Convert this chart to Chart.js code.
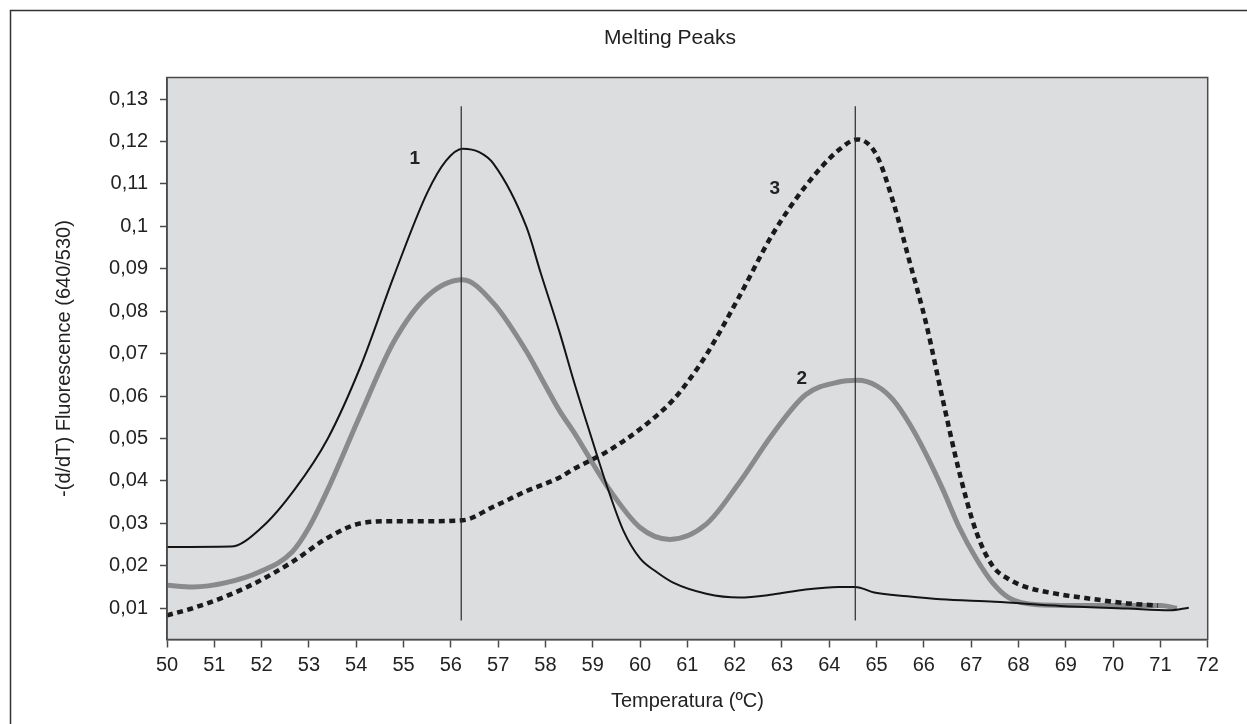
<!DOCTYPE html>
<html>
<head>
<meta charset="utf-8">
<title>Melting Peaks</title>
<script src="https://cdn.jsdelivr.net/npm/chart.js@4/dist/chart.umd.min.js"></script>
<style>
  html, body { margin: 0; padding: 0; background: #fff; }
  canvas { display: block; }
</style>
</head>
<body>
<canvas id="chart" width="1247" height="724"></canvas>
<script>
// curve 1 - thin black
const temp1 = [50, 51.35, 52, 52.7, 53.4, 54.1, 54.8, 55.5, 55.9, 56.25, 56.6, 56.9, 57.6, 57.9, 58.3, 58.6, 58.95, 59.3, 59.65, 60, 60.35, 60.7, 61.4, 62.1, 62.8, 63.5, 64.2, 64.55, 64.95, 65.65, 66.35, 67.5, 68.9, 70.3, 71.2, 71.6]
const peak1 = [0.0244, 0.0245, 0.029, 0.038, 0.05, 0.0672, 0.0884, 0.1079, 0.1155, 0.1183, 0.1175, 0.1148, 0.0998, 0.089, 0.075, 0.0635, 0.051, 0.0388, 0.0282, 0.0217, 0.0185, 0.016, 0.0134, 0.0125, 0.0132, 0.0144, 0.015, 0.015, 0.0137, 0.0128, 0.0121, 0.0115, 0.0105, 0.0099, 0.0095, 0.0101]

// curve 2 - thick grey
const temp2 = [50, 50.55, 51.25, 51.95, 52.65, 53, 53.4, 54.1, 54.8, 55.5, 56.25, 56.9, 57.6, 57.9, 58.3, 58.6, 59.3, 60, 60.63, 61.4, 62.1, 62.8, 63.5, 64.2, 64.6, 65, 65.35, 65.7, 66.05, 66.4, 66.75, 67.1, 67.45, 67.8, 68.4, 69.6, 71, 71.35]
const peak2 = [0.0154, 0.015, 0.016, 0.0185, 0.0233, 0.029, 0.038, 0.0559, 0.0729, 0.0835, 0.0874, 0.0819, 0.0705, 0.0645, 0.0565, 0.0515, 0.0388, 0.029, 0.0262, 0.0298, 0.0396, 0.051, 0.0603, 0.0633, 0.0637, 0.0624, 0.0591, 0.0534, 0.0462, 0.038, 0.029, 0.0218, 0.016, 0.0124, 0.0108, 0.0106, 0.0106, 0.01]

// curve 3 - dotted
const temp3 = [50, 50.55, 51.25, 51.95, 52.65, 53.4, 54.1, 54.8, 55.5, 56.25, 56.9, 57.6, 58.3, 58.6, 59.3, 60, 60.7, 61.05, 61.4, 62.1, 62.8, 63.5, 64.2, 64.6, 65, 65.35, 65.7, 66.05, 66.4, 66.75, 67.1, 67.45, 67.8, 68.15, 68.9, 69.6, 70.3, 70.95]
const peak3 = [0.0083, 0.01, 0.0128, 0.0164, 0.0209, 0.0266, 0.03, 0.0305, 0.0305, 0.0307, 0.0339, 0.0376, 0.0408, 0.0428, 0.0469, 0.0522, 0.0591, 0.064, 0.0697, 0.0835, 0.0981, 0.1095, 0.118, 0.1205, 0.1168, 0.1058, 0.0916, 0.077, 0.0591, 0.042, 0.0282, 0.02, 0.0168, 0.015, 0.0132, 0.0121, 0.0111, 0.0106]

// melting temperature markers
const markerTemps = [56.22, 64.55]
const markerRange = [0.0071, 0.1283]

// curve numbers
const curveNames = ["1", "2", "3"]
const nameTemps = [55.24, 63.42, 62.85]
const nameValues = [0.116, 0.064, 0.1088]

const xRange = [50, 72]
const yRange = [0.0026, 0.1351]
const yTickValues = [0.01, 0.02, 0.03, 0.04, 0.05, 0.06, 0.07, 0.08, 0.09, 0.1, 0.11, 0.12, 0.13]

const toPoints = (xs, ys) => xs.map((x, i) => ({ x, y: ys[i] }))

const FONT = "'Liberation Sans', Arial, Helvetica, sans-serif"
const INK = "#222"

const plotDecor = {
  id: "plotDecor",
  beforeDraw(chart) {
    const { ctx, chartArea: a } = chart
    ctx.save()
    ctx.fillStyle = "#dcdddf"
    ctx.fillRect(a.left, a.top, a.right - a.left, a.bottom - a.top)
    ctx.restore()
  },
  afterDraw(chart) {
    const { ctx, chartArea: a, scales } = chart
    ctx.save()
    // plot frame
    ctx.strokeStyle = "#4a4a4a"
    ctx.lineWidth = 1.5
    ctx.strokeRect(a.left, a.top, a.right - a.left, a.bottom - a.top)
    // outer frame (only top and left fall inside the picture)
    ctx.strokeStyle = "#333"
    ctx.lineWidth = 1.5
    ctx.strokeRect(10.5, 10.5, 2000, 2000)
    // title
    ctx.fillStyle = INK
    ctx.font = "21px " + FONT
    ctx.textAlign = "center"
    ctx.textBaseline = "middle"
    ctx.fillText("Melting Peaks", 670, 38)
    // curve numbers
    ctx.font = "bold 19px " + FONT
    curveNames.forEach((n, i) => {
      ctx.fillText(n, scales.x.getPixelForValue(nameTemps[i]), scales.y.getPixelForValue(nameValues[i]))
    })
    ctx.restore()
  }
}

new Chart(document.getElementById("chart"), {
  type: "line",
  data: {
    datasets: [
      ...markerTemps.map((t) => ({
        data: toPoints([t, t], markerRange),
        borderColor: "#2a2a2a",
        borderWidth: 1.2,
        pointRadius: 0,
        tension: 0
      })),
      {
        data: toPoints(temp1, peak1),
        borderColor: "#141414",
        borderWidth: 2,
        pointRadius: 0,
        cubicInterpolationMode: "monotone"
      },
      {
        data: toPoints(temp3, peak3),
        borderColor: "#1a1a1a",
        borderWidth: 4.5,
        borderDash: [6, 4.5],
        borderCapStyle: "butt",
        pointRadius: 0,
        cubicInterpolationMode: "monotone"
      },
      {
        data: toPoints(temp2, peak2),
        borderColor: "#898a8c",
        borderWidth: 5,
        pointRadius: 0,
        cubicInterpolationMode: "monotone"
      }
    ]
  },
  options: {
    responsive: false,
    animation: false,
    devicePixelRatio: 1,
    layout: { padding: { top: 77.5, right: 39.3, bottom: 0, left: 0 } },
    plugins: {
      legend: { display: false },
      tooltip: { enabled: false },
      title: { display: false }
    },
    scales: {
      x: {
        type: "linear",
        min: xRange[0],
        max: xRange[1],
        afterFit: (scale) => { scale.height = 84.5 },
        border: { display: true, color: "#4a4a4a", width: 1.5 },
        grid: { drawOnChartArea: false, drawTicks: true, tickLength: 8, tickColor: "#4a4a4a", tickWidth: 1.5 },
        ticks: {
          stepSize: 1,
          autoSkip: false,
          maxRotation: 0,
          padding: 5.5,
          color: INK,
          font: { family: FONT, size: 20 }
        },
        title: {
          display: true,
          text: "Temperatura (ºC)",
          color: INK,
          font: { family: FONT, size: 20 },
          padding: { top: 0, bottom: 10.3 }
        }
      },
      y: {
        type: "linear",
        min: yRange[0],
        max: yRange[1],
        afterFit: (scale) => { scale.width = 167 },
        afterBuildTicks: (scale) => { scale.ticks = yTickValues.map((value) => ({ value })) },
        border: { display: true, color: "#4a4a4a", width: 1.5 },
        grid: { drawOnChartArea: false, drawTicks: true, tickLength: 7, tickColor: "#4a4a4a", tickWidth: 1.5 },
        ticks: {
          autoSkip: false,
          padding: 12,
          color: INK,
          font: { family: FONT, size: 20 },
          callback: (v) => String(Math.round(v * 100) / 100).replace(".", ",")
        },
        title: {
          display: true,
          text: "-(d/dT) Fluorescence (640/530)",
          color: INK,
          font: { family: FONT, size: 20 },
          padding: { top: 52, bottom: 0 }
        }
      }
    }
  },
  plugins: [plotDecor]
})
</script>
</body>
</html>
